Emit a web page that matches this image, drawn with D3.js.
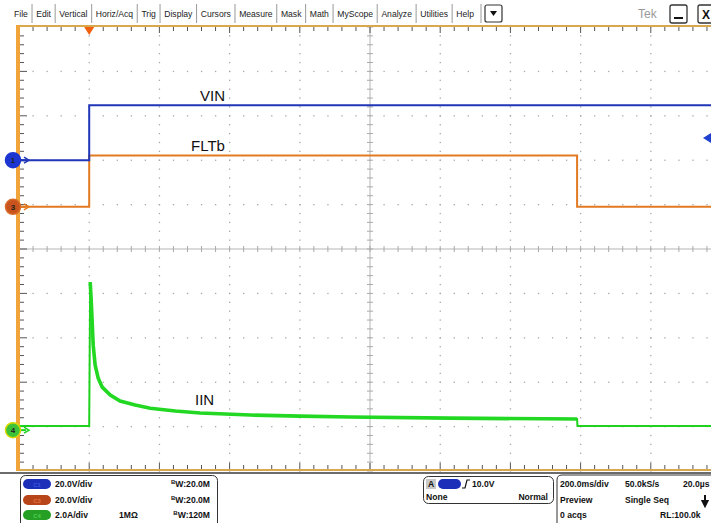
<!DOCTYPE html>
<html><head><meta charset="utf-8">
<script src="https://cdn.jsdelivr.net/npm/d3@7"></script>
<style>body{margin:0;background:#fff;overflow:hidden}svg{display:block;font-family:Arial,"Liberation Sans",sans-serif}</style>
</head><body><svg id="c" width="711" height="523"></svg>
<script>
// ---------- data ----------
const menuItems = ["File","Edit","Vertical","Horiz/Acq","Trig","Display","Cursors","Measure","Mask","Math","MyScope","Analyze","Utilities","Help"];
// time in ms relative to trigger
const vinTime  = [-200, 0, 0, 1800];
const vinVolts = [0, 0, 24.8, 24.8];
const fltTime  = [-200, 0, 0, 1390, 1390, 1800];
const fltVolts = [0, 0, 23.1, 23.1, 0, 0];
const iinTime  = [-200, 0, 2.8, 5.7, 11.4, 17, 25.6, 37, 60, 88, 131, 174, 245, 316, 459, 601, 744, 1028, 1390, 1391, 1800];
const iinAmps  = [0.19, 0.19, 6.67, 5.86, 3.83, 2.93, 2.34, 1.94, 1.58, 1.31, 1.13, 0.99, 0.86, 0.77, 0.68, 0.63, 0.59, 0.54, 0.50, 0.19, 0.19];
const traceLabels = ["VIN","FLTb","IIN"];
const chScales = ["20.0V/div","20.0V/div","2.0A/div"];
const chBw = ["20.0M","20.0M","120M"];
const chNames = ["C1","C3","C4"];
const triggerLevel = 10.0; // V on ch1
const horizInfo = [["200.0ms/div","50.0kS/s","20.0µs"],["Preview","Single Seq",""],["0 acqs","","RL:100.0k"]];

// ---------- layout ----------
const svg = d3.select("#c");
const L = 19, T = 27, B = 471, divW = 70.2;
const x = d3.scaleLinear().domain([-200, 1800]).range([L, L + 10*divW]);
const yDiv = d3.scaleLinear().domain([-5, 5]).range([B, T]);
const yCh1 = v => yDiv(v/20 + 2.0);
const yCh3 = v => yDiv(v/20 + 0.95);
const yCh4 = a => yDiv(a/2 - 4.08);
const cx = x(800), cy = yDiv(0);
const W = 711;

// menu bar
const menu = svg.append("g");
const mt = menu.selectAll("text").data(menuItems).join("text")
  .attr("y", 17).attr("font-size", 8.6).attr("fill", "#222").text(d => d);
const widths = [];
mt.each(function(){ widths.push(this.getComputedTextLength()); });
const gap = (474 - 14 - d3.sum(widths)) / (menuItems.length - 1);
let px = 14;
mt.each(function(d,i){
  d3.select(this).attr("x", px);
  px += widths[i];
  if (i < menuItems.length - 1) {
    menu.append("line").attr("x1", px + gap/2).attr("x2", px + gap/2).attr("y1", 4).attr("y2", 23)
      .attr("stroke", "#999").attr("stroke-width", 1);
  }
  px += gap;
});
menu.append("line").attr("x1", 481).attr("x2", 481).attr("y1", 4).attr("y2", 23).attr("stroke", "#999");
menu.append("rect").attr("x", 485).attr("y", 5).attr("width", 17).attr("height", 17).attr("rx", 2)
  .attr("fill", "#fff").attr("stroke", "#333").attr("stroke-width", 1.2);
menu.append("path").attr("d", "M490,11 L497,11 L493.5,16 Z").attr("fill", "#111");
menu.append("text").attr("x", 638).attr("y", 18).attr("font-size", 12).attr("fill", "#999").text("Tek");
menu.append("rect").attr("x", 670).attr("y", 5).attr("width", 17).attr("height", 18).attr("rx", 2)
  .attr("fill", "#fff").attr("stroke", "#333").attr("stroke-width", 1.3);
menu.append("line").attr("x1", 674).attr("x2", 683).attr("y1", 18).attr("y2", 18).attr("stroke", "#111").attr("stroke-width", 2);
menu.append("rect").attr("x", 698).attr("y", 5).attr("width", 17).attr("height", 18).attr("rx", 2)
  .attr("fill", "#fff").attr("stroke", "#333").attr("stroke-width", 1.3);
menu.append("text").attr("x", 702).attr("y", 19).attr("font-size", 12).attr("font-weight", "bold").attr("fill", "#111").text("X");

// graticule dots
const grid = svg.append("g");
const minorX = d3.range(0, 50.01, 1).map(i => L + i*divW/5);
const minorY = d3.range(0, 50.01, 1).map(i => T + i*(B-T)/50);
for (let k = 1; k < 10; k++) {
  if (k === 5) continue;
  const gx = L + k*divW;
  grid.selectAll(null).data(minorY).join("rect")
    .attr("x", gx - 0.6).attr("y", d => d - 0.6).attr("width", 1.3).attr("height", 1.3).attr("fill", "#a8a8a8");
}
for (let j = -4; j <= 4; j++) {
  if (j === 0) continue;
  const gy = yDiv(j);
  grid.selectAll(null).data(minorX.filter(v => v < W)).join("rect")
    .attr("x", d => d - 0.6).attr("y", gy - 0.6).attr("width", 1.3).attr("height", 1.3).attr("fill", "#a8a8a8");
}
// center crosshair
grid.append("line").attr("x1", L).attr("x2", W).attr("y1", cy).attr("y2", cy).attr("stroke", "#b5b5b5");
grid.append("line").attr("x1", cx).attr("x2", cx).attr("y1", T).attr("y2", B).attr("stroke", "#b5b5b5");
grid.selectAll(null).data(minorX.filter(v => v < W)).join("line")
  .attr("x1", d => d).attr("x2", d => d).attr("y1", cy - 3).attr("y2", cy + 3).attr("stroke", "#aaa");
grid.selectAll(null).data(minorY).join("line")
  .attr("x1", cx - 3).attr("x2", cx + 3).attr("y1", d => d).attr("y2", d => d).attr("stroke", "#aaa");

// border
const bord = svg.append("g");
bord.append("line").attr("x1", L).attr("x2", W).attr("y1", T - 1).attr("y2", T - 1).attr("stroke", "#d9a84e").attr("stroke-width", 2);
bord.append("line").attr("x1", L).attr("x2", W).attr("y1", B - 1).attr("y2", B - 1).attr("stroke", "#d9a84e").attr("stroke-width", 2);
bord.append("line").attr("x1", L - 1).attr("x2", L - 1).attr("y1", T - 2).attr("y2", B).attr("stroke", "#f0a43a").attr("stroke-width", 4);
bord.selectAll(null).data(minorX.filter(v => v < W && v > L + 1)).join("line")
  .attr("x1", d => d).attr("x2", d => d).attr("y1", T).attr("y2", (d,i) => T + ((i+1) % 5 === 0 ? 6 : 4)).attr("stroke", "#555");
bord.selectAll(null).data(minorX.filter(v => v < W && v > L + 1)).join("line")
  .attr("x1", d => d).attr("x2", d => d).attr("y1", B - 2).attr("y2", (d,i) => B - 2 - ((i+1) % 5 === 0 ? 6 : 4)).attr("stroke", "#555");
bord.selectAll(null).data(minorY.slice(1, -1)).join("line")
  .attr("x1", L + 1).attr("x2", (d,i) => L + 1 + ((i+1) % 5 === 0 ? 7 : 4)).attr("y1", d => d).attr("y2", d => d).attr("stroke", "#555");

// traces
const line = d3.line().curve(d3.curveLinear);
const iinPts = iinTime.map((t,i) => [x(t), yCh4(iinAmps[i])]);
const fltPts = fltTime.map((t,i) => [x(t), yCh3(fltVolts[i])]);
const vinPts = vinTime.map((t,i) => [x(t), yCh1(vinVolts[i])]);
const tr = svg.append("g").attr("fill", "none");
tr.append("path").attr("d", line(iinPts)).attr("stroke", "#1ed21e").attr("stroke-width", 2);
tr.append("path").attr("d", line(iinPts.slice(2, 19))).attr("stroke", "#22d822").attr("stroke-width", 3.6);
tr.append("path").attr("d", line(fltPts)).attr("stroke", "#e27a22").attr("stroke-width", 2);
tr.append("path").attr("d", line(vinPts)).attr("stroke", "#2036b8").attr("stroke-width", 2);

// trace labels
const lab = svg.append("g").attr("font-size", 15).attr("fill", "#111");
lab.append("text").attr("x", 200).attr("y", 101).text(traceLabels[0]);
lab.append("text").attr("x", 191).attr("y", 151).text(traceLabels[1]);
lab.append("text").attr("x", 195).attr("y", 405).text(traceLabels[2]);

// trigger position marker
svg.append("path").attr("d", `M${x(0)-5},${T} L${x(0)+5},${T} L${x(0)},${T+8} Z`).attr("fill", "#f0600e");
// trigger level marker
const tl = yCh1(triggerLevel);
svg.append("path").attr("d", `M${W-8},${tl} L${W},${tl-5} L${W},${tl+5} Z`).attr("fill", "#2040d0");

// channel markers
const markers = [
  {y: yCh1(0), fill: "#1d36d2", stroke: "#1d36d2", arrow: "#2036b8", t: "1"},
  {y: yCh3(0), fill: "#c9531c", stroke: "#d86a2a", arrow: "#e27a22", t: "3"},
  {y: yCh4(0), fill: "#3ec23a", stroke: "#d8d800", arrow: "#1ed21e", t: "4"}
];
const mk = svg.append("g");
markers.forEach(m => {
  mk.append("line").attr("x1", 18).attr("x2", 26).attr("y1", m.y).attr("y2", m.y).attr("stroke", m.arrow).attr("stroke-width", 2);
  mk.append("path").attr("d", `M24,${m.y-3} L29,${m.y} L24,${m.y+3}`).attr("fill", "none").attr("stroke", m.arrow).attr("stroke-width", 1.5);
  mk.append("circle").attr("cx", 13).attr("cy", m.y).attr("r", 7.5).attr("fill", m.fill).attr("stroke", m.stroke).attr("stroke-width", 1.5);
  mk.append("text").attr("x", 13).attr("y", m.y + 3).attr("text-anchor", "middle").attr("font-size", 8).attr("font-weight", "bold").attr("fill", "#222").text(m.t);
});

// status bar
const sb = svg.append("g").attr("font-size", 8.6).attr("font-weight", "bold").attr("fill", "#111");
sb.append("line").attr("x1", 0).attr("x2", W).attr("y1", 473).attr("y2", 473).attr("stroke", "#3a3a3a").attr("stroke-width", 1.5);
sb.append("rect").attr("x", 20.5).attr("y", 475.5).attr("width", 197).attr("height", 60).attr("rx", 5).attr("fill", "#fff").attr("stroke", "#333");
const pillCol = [["#1b2fb8","#3d55e0"],["#b8451a","#e07040"],["#25a025","#50d050"]];
const rowsY = [487, 503, 518];
chScales.forEach((s,i) => {
  const yy = rowsY[i];
  sb.append("rect").attr("x", 23).attr("y", yy - 8).attr("width", 28).attr("height", 10).attr("rx", 5).attr("fill", pillCol[i][0]);
  sb.append("text").attr("x", 37).attr("y", yy).attr("text-anchor", "middle").attr("font-size", 6).attr("fill", pillCol[i][1]).text(chNames[i]);
  sb.append("text").attr("x", 55).attr("y", yy).text(s);
  const bw = sb.append("text").attr("x", 210).attr("y", yy).attr("text-anchor", "end");
  bw.append("tspan").attr("font-size", 6).attr("dy", -3).text("B");
  bw.append("tspan").attr("dy", 3).text("W:" + chBw[i]);
});
sb.append("text").attr("x", 119).attr("y", rowsY[2]).text("1MΩ");

// trigger box
sb.append("rect").attr("x", 423.5).attr("y", 476.5).attr("width", 130).attr("height", 27).attr("rx", 5).attr("fill", "#fff").attr("stroke", "#333");
sb.append("rect").attr("x", 426).attr("y", 479).attr("width", 10).attr("height", 10).attr("fill", "#c8c8c8");
sb.append("text").attr("x", 428).attr("y", 487).text("A");
sb.append("rect").attr("x", 438).attr("y", 479).attr("width", 23).attr("height", 10).attr("rx", 5).attr("fill", "#1b2fb8");
sb.append("path").attr("d", "M462,488 L465,488 L467,480 L470,480").attr("fill", "none").attr("stroke", "#111").attr("stroke-width", 1.2);
sb.append("text").attr("x", 472).attr("y", 487).text(triggerLevel.toFixed(1) + "V");
sb.append("text").attr("x", 426).attr("y", 500).text("None");
sb.append("text").attr("x", 548).attr("y", 500).attr("text-anchor", "end").text("Normal");

// horizontal box
sb.append("path").attr("d", "M557,523 L557,480 Q557,475 562,475 L720,475").attr("fill", "none").attr("stroke", "#333");
const hx = [560, 625, 683];
horizInfo.forEach((row, r) => row.forEach((t, c) => {
  if (!t) return;
  sb.append("text").attr("x", r === 2 && c === 2 ? 660 : hx[c]).attr("y", rowsY[r]).text(t);
}));
sb.append("path").attr("d", "M705,495 L705,502 M702.5,501 L705,506 L707.5,501 Z").attr("stroke", "#111").attr("stroke-width", 2).attr("fill", "#111");
</script></body></html>
